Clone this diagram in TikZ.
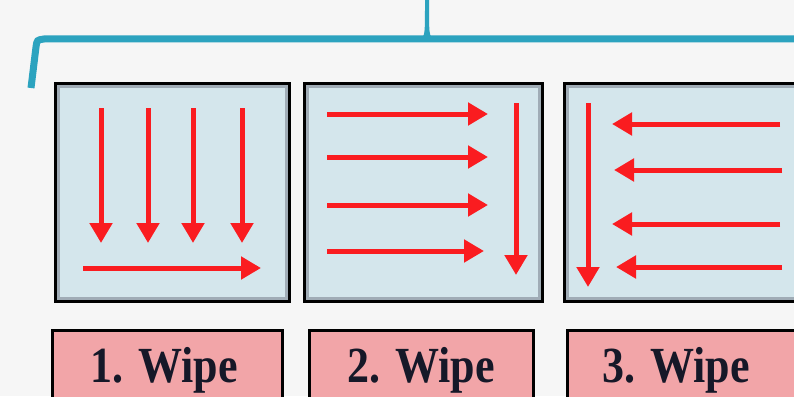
\documentclass[tikz,border=0pt]{standalone}
\usepackage{fontspec}
\setmainfont{Liberation Serif}
\usetikzlibrary{arrows.meta}
\definecolor{bgcol}{RGB}{246,246,246}
\definecolor{bracecol}{RGB}{44,163,191}
\definecolor{panelfill}{RGB}{212,230,236}
\definecolor{panelshade}{RGB}{160,172,182}
\definecolor{labelfill}{RGB}{242,165,168}
\definecolor{arrowred}{RGB}{250,28,32}
\definecolor{textcol}{RGB}{22,24,40}
\tikzset{
  panel/.style={draw=black, line width=3, fill=panelfill, outer sep=0, inner sep=0,
    minimum height=218,
    path picture={\draw[panelshade, line width=9] (path picture bounding box.north west) rectangle (path picture bounding box.south east);}},
  labelbox/.style={draw=black, line width=3, fill=labelfill, outer sep=0, inner sep=0, minimum height=99.5},
  labeltext/.style={anchor=base, text=textcol, inner sep=0, font=\fontsize{44}{44}\selectfont\bfseries},
  warr/.style={draw=arrowred, line width=5, -{Triangle[width=22pt,length=20pt]}},
}
\begin{document}
\begin{tikzpicture}[x=1pt,y=-1pt]
\fill[bgcol] (0,0) rectangle (794,396);
\clip (0,0) rectangle (794,396);
% brace
\draw[bracecol, line width=7] (31,88) -- (36,47) .. controls (37,40) .. (44,39) -- (800,39);
\fill[bracecol] (420,39) .. controls (425,36) .. (425,0) -- (429,0) .. controls (429,36) .. (434,39) -- cycle;
% panels
\node[panel, minimum width=234] (p1) at (172.5,192.5) {};
\node[panel, minimum width=238] (p2) at (423.5,192.5) {};
\node[panel, minimum width=239] (p3) at (684,192.5) {};
% panel 1 arrows
\draw[warr] (101,108) -- (101,243);
\draw[warr] (148,108) -- (148,243);
\draw[warr] (193,108) -- (193,243);
\draw[warr] (242,108) -- (242,243);
\draw[warr] (83,268) -- (261,268);
% panel 2 arrows
\draw[warr] (327,114) -- (488,114);
\draw[warr] (327,157) -- (488,157);
\draw[warr] (327,205) -- (488,205);
\draw[warr] (327,251) -- (484,251);
\draw[warr] (516,103) -- (516,275);
% panel 3 arrows
\draw[warr] (588,103) -- (588,287);
\draw[warr] (780,124) -- (612,124);
\draw[warr] (782,170) -- (614,170);
\draw[warr] (780,224) -- (612,224);
\draw[warr] (782,267) -- (616,267);
% labels
\node[labelbox, minimum width=230] (l1) at (167.5,380.25) {};
\node[labelbox, minimum width=224] (l2) at (421.5,380.25) {};
\node[labelbox, minimum width=242.5] (l3) at (688.75,380.25) {};
\node[labeltext] (t1) at (164,382) {\scalebox{1}[1.15]{1. Wipe}};
\node[labeltext] (t2) at (421,382) {\scalebox{1}[1.15]{2. Wipe}};
\node[labeltext] (t3) at (676,382) {\scalebox{1}[1.15]{3. Wipe}};
\end{tikzpicture}
\end{document}
